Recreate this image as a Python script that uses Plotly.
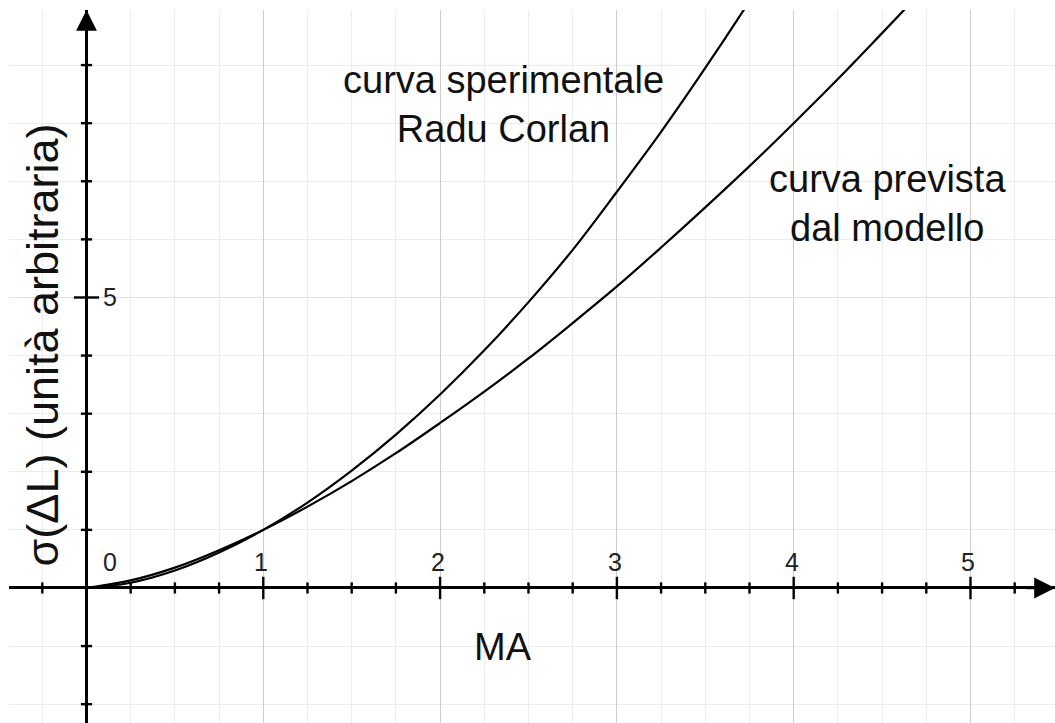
import plotly.graph_objects as go

# Curve samples (MA on x, sigma(ΔL) in arbitrary units on y)
ma_model = [0.0, 0.25, 0.5, 0.75, 1.0, 1.25, 1.5, 1.75, 2.0, 2.25, 2.5, 2.75,
            3.0, 3.25, 3.5, 3.75, 4.0, 4.25, 4.5, 4.75]
sigma_model = [0.0, 0.13, 0.35, 0.65, 1.0, 1.40, 1.84, 2.32, 2.84, 3.38, 3.95, 4.56,
               5.19, 5.86, 6.55, 7.26, 8.0, 8.76, 9.55, 10.35]

ma_exp = [0.0, 0.25, 0.5, 0.75, 1.0, 1.25, 1.5, 1.75, 2.0, 2.25, 2.5, 2.75,
          3.0, 3.25, 3.5, 3.75, 4.0]
sigma_exp = [0.0, 0.09, 0.30, 0.61, 1.0, 1.47, 2.02, 2.64, 3.33, 4.09, 4.92, 5.82,
             6.82, 7.85, 8.95, 10.1, 11.3]

# Axis tick positions and labels
x_minor_ticks = [-0.25, 0.25, 0.5, 0.75, 1.25, 1.5, 1.75, 2.25, 2.5, 2.75,
                 3.25, 3.5, 3.75, 4.25, 4.5, 4.75, 5.25]
x_major_ticks = [1, 2, 3, 4, 5]
x_tick_labels = ["0", "1", "2", "3", "4", "5"]
x_label_pos = [0, 1, 2, 3, 4, 5]
y_minor_ticks = [-2, -1, 1, 2, 3, 4, 6, 7, 8, 9]
y_major_ticks = [5]
y_tick_labels = ["5"]

X_RANGE = [-0.4383, 5.478]
Y_RANGE = [-2.324, 9.948]

FONT = "Liberation Sans, Arial, sans-serif"
INK = "#111111"

fig = go.Figure()

# curves
fig.add_trace(go.Scatter(x=ma_exp, y=sigma_exp, mode="lines",
                         line=dict(color="black", width=2.2, shape="spline"),
                         hoverinfo="skip"))
fig.add_trace(go.Scatter(x=ma_model, y=sigma_model, mode="lines",
                         line=dict(color="black", width=2.2, shape="spline"),
                         hoverinfo="skip"))

# tick marks drawn on the axes themselves
def tick_trace(xs, ys, symbol, size):
    return go.Scatter(x=xs, y=ys, mode="markers", cliponaxis=False,
                      marker=dict(symbol=symbol, size=size,
                                  line=dict(color="black", width=2.4)),
                      hoverinfo="skip")

fig.add_trace(tick_trace(x_minor_ticks, [0] * len(x_minor_ticks), "line-ns", 8))
fig.add_trace(tick_trace(x_major_ticks, [0] * len(x_major_ticks), "line-ns", 16))
fig.add_trace(tick_trace([0] * len(y_minor_ticks), y_minor_ticks, "line-ew", 8))
fig.add_trace(tick_trace([0] * len(y_major_ticks), y_major_ticks, "line-ew", 18))

annotations = []
# tick labels
for pos, lab in zip(x_label_pos, x_tick_labels):
    annotations.append(dict(x=pos, y=0, text=lab, showarrow=False,
                            xshift=24 if pos == 0 else -2, yshift=26,
                            font=dict(family=FONT, size=25, color="#222222")))
for pos, lab in zip(y_major_ticks, y_tick_labels):
    annotations.append(dict(x=0, y=pos, text=lab, showarrow=False,
                            xshift=24, font=dict(family=FONT, size=25, color="#222222")))

# axis arrowheads
annotations.append(dict(x=0, y=Y_RANGE[1], ax=0, ay=30, text="", showarrow=True,
                        arrowhead=2, arrowsize=1.6, arrowwidth=2.6, arrowcolor="black",
                        standoff=0))
annotations.append(dict(x=X_RANGE[1], y=0, ax=-30, ay=0, text="", showarrow=True,
                        arrowhead=2, arrowsize=1.6, arrowwidth=2.6, arrowcolor="black",
                        standoff=0))

# curve labels and axis titles
annotations.append(dict(x=2.36, y=8.33, text="curva sperimentale<br>Radu Corlan",
                        showarrow=False, align="center",
                        font=dict(family=FONT, size=38, color=INK)))
annotations.append(dict(x=4.533, y=6.61, text="curva prevista<br>dal modello",
                        showarrow=False, align="center",
                        font=dict(family=FONT, size=38, color=INK)))
annotations.append(dict(x=2.355, y=-1.016, text="MA", showarrow=False,
                        font=dict(family=FONT, size=38, color=INK)))
annotations.append(dict(x=-0.25, y=4.18, text="σ(ΔL) (unità arbitraria)",
                        showarrow=False, textangle=-90,
                        font=dict(family=FONT, size=45, color=INK)))

fig.update_layout(
    width=1055, height=723,
    margin=dict(l=9, r=0, t=10, b=0),
    paper_bgcolor="white", plot_bgcolor="white",
    showlegend=False,
    annotations=annotations,
    xaxis=dict(range=X_RANGE, showticklabels=False, ticks="",
               tick0=0, dtick=1, showgrid=True, gridcolor="#cdcdcd", gridwidth=1.3,
               minor=dict(tick0=0, dtick=0.25, showgrid=True, gridcolor="#ececec",
                          gridwidth=1.3),
               zeroline=True, zerolinecolor="black", zerolinewidth=2.6,
               showline=False, fixedrange=True),
    yaxis=dict(range=Y_RANGE, showticklabels=False, ticks="",
               tick0=0, dtick=5, showgrid=True, gridcolor="#e2e2e2", gridwidth=1.3,
               minor=dict(tick0=0, dtick=1, showgrid=True, gridcolor="#ececec",
                          gridwidth=1.3),
               zeroline=True, zerolinecolor="black", zerolinewidth=2.6,
               showline=False, fixedrange=True),
)

fig.write_html("out.html", config={"displayModeBar": False})
